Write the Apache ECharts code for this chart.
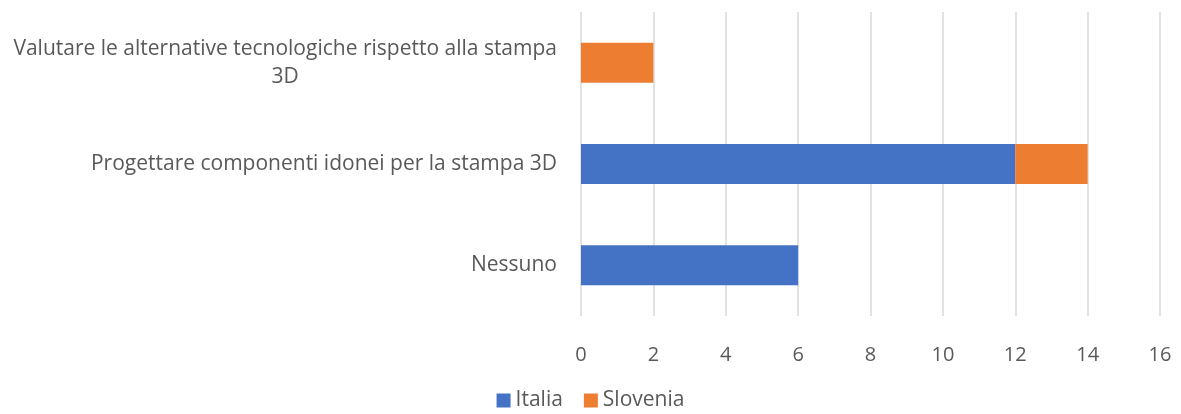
<!DOCTYPE html>
<html><head><meta charset="utf-8">
<script src="https://cdn.jsdelivr.net/npm/echarts@6/dist/echarts.min.js"></script>
<style>html,body{margin:0;padding:0;background:#fff}#c{width:1181px;height:414px}</style>
</head><body><div id="c"></div>
<script>
const categories = ['Nessuno', 'Progettare componenti idonei per la stampa 3D', 'Valutare le alternative tecnologiche rispetto alla stampa\n3D'];
const italia = [6, 12, 0];
const slovenia = [0, 2, 2];
const xTicks = {min: 0, max: 16, interval: 2};

const font = '"Open Sans", Lato, sans-serif';
const chart = echarts.init(document.getElementById('c'));
chart.setOption({
  animation: false,
  textStyle: {fontFamily: font},
  grid: {left: 581, right: 21, top: 12, bottom: 98, containLabel: false},
  xAxis: {
    type: 'value', min: xTicks.min, max: xTicks.max, interval: xTicks.interval,
    axisLine: {show: false}, axisTick: {show: false},
    splitLine: {lineStyle: {color: '#D9D9D9', width: 1.5}},
    axisLabel: {color: '#595959', fontSize: 20, margin: 29, fontFamily: font}
  },
  yAxis: {
    type: 'category', data: categories,
    axisLine: {show: false}, axisTick: {show: false},
    axisLabel: {
      color: '#595959', fontSize: 21, margin: 24, fontFamily: font, lineHeight: 28,
      formatter: v => '{c|' + v.split('\n').join('}\n{c|') + '}',
      rich: {c: {align: 'center', color: '#595959', fontSize: 21, fontFamily: font, lineHeight: 28}}
    }
  },
  legend: {
    bottom: -2, left: 'center', itemWidth: 14, itemHeight: 14, itemGap: 21, itemTextGap: 4,
    icon: 'rect',
    textStyle: {color: '#595959', fontSize: 21, fontFamily: font}
  },
  series: [
    {name: 'Italia', type: 'bar', stack: 't', data: italia, barWidth: 40, itemStyle: {color: '#4472C4'}},
    {name: 'Slovenia', type: 'bar', stack: 't', data: slovenia, barWidth: 40, itemStyle: {color: '#ED7D31'}}
  ]
});
</script></body></html>
